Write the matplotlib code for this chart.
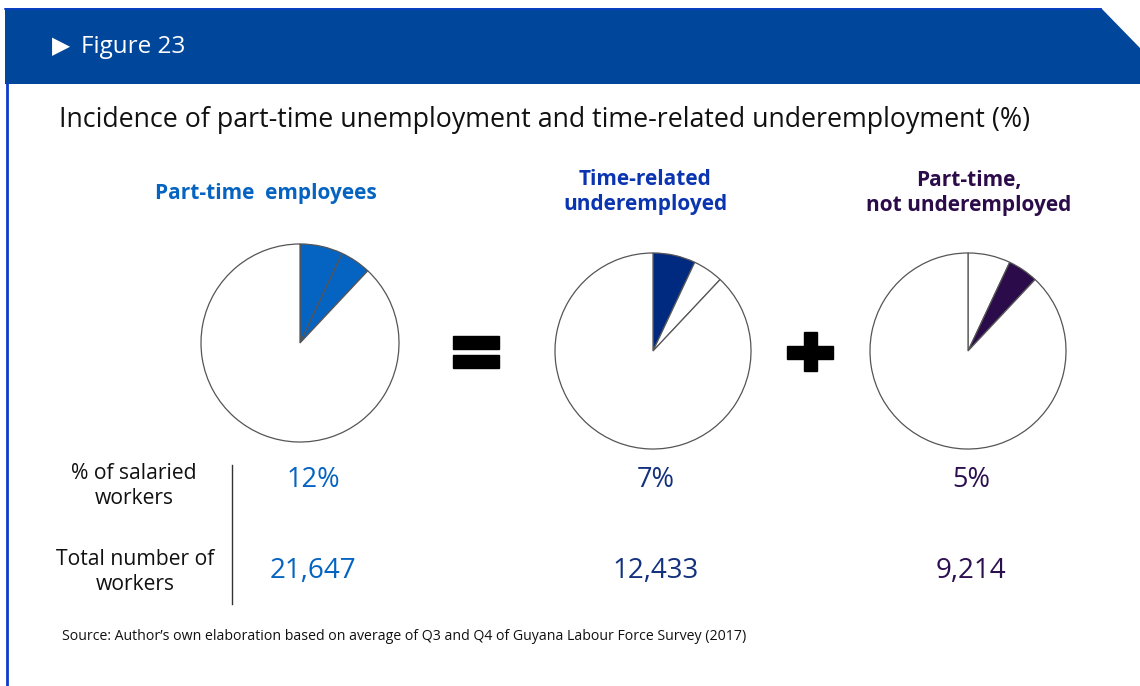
import matplotlib
matplotlib.use("Agg")
import matplotlib.pyplot as plt
from matplotlib.patches import Polygon, Rectangle

plt.rcParams['font.family'] = ['Open Sans', 'Noto Sans', 'DejaVu Sans']

W, H = 1140, 686

# Data: share of salaried workers (%) and worker counts
groups = ["Part-time  employees", "Time-related\nunderemployed", "Part-time,\nnot underemployed"]
share_pct = [12, 7, 5]
workers = [21647, 12433, 9214]
# slices shown in each pie: time-related, not underemployed, rest
slices = [7, 5, 100 - 12]

blue = "#0563C1"
navy = "#002A7F"
purple = "#2B0B4A"
header = "#00479B"

fig = plt.figure(figsize=(W / 100, H / 100), dpi=100)
ax = fig.add_axes([0, 0, 1, 1])
ax.set_xlim(0, W)
ax.set_ylim(H, 0)
ax.axis('off')

# header band with cut corner
ax.add_patch(Polygon([[5, 8], [1101, 8], [1140, 48], [1140, 84], [5, 84]],
                     closed=True, facecolor=header, edgecolor='none'))
ax.plot([5, 1101], [8.5, 8.5], color="#0A3FC8", lw=1.2)
ax.plot([6.5, 6.5], [84, H], color="#0A3FC8", lw=2)
ax.text(52, 46, "\u25B6", color='white', fontsize=17, va='center', ha='left',
        family=['DejaVu Sans'])
ax.text(81, 47, "Figure 23", color='white', fontsize=17.5, va='center', ha='left')

ax.text(59, 120, "Incidence of part-time unemployment and time-related underemployment (%)",
        fontsize=19.3, va='center', ha='left', color='#111111')

# pies
centers = [(300, 343, 100), (653, 351, 99), (968, 351, 99)]
pie_colors = [[blue, blue, 'white'], [navy, 'white', 'white'], ['white', purple, 'white']]
label_colors = [blue, "#0B35B0", purple]
value_colors = [blue, "#14317F", "#2B0F4F"]
label_pos = [(266, 193), (645, 192), (969, 193)]
value_x = [313, 656, 971]

for (cx, cy, r), cols in zip(centers, pie_colors):
    pax = fig.add_axes([(cx - r) / W, 1 - (cy + r) / H, 2 * r / W, 2 * r / H])
    pax.pie(slices, colors=cols, startangle=90, counterclock=False, radius=1,
            wedgeprops=dict(edgecolor='#555555', linewidth=0.9))
    pax.set_xlim(-1.01, 1.01)
    pax.set_ylim(-1.01, 1.01)
    pax.set_aspect('equal')
    pax.axis('off')

for name, (lx, ly), c in zip(groups, label_pos, label_colors):
    ax.text(lx, ly, name, fontsize=15, fontweight='bold', color=c,
            ha='center', va='center', linespacing=1.3)

# equals and plus signs
ax.add_patch(Rectangle((453, 336), 46, 12.5, color='black'))
ax.add_patch(Rectangle((453, 355), 46, 12.5, color='black'))
ax.add_patch(Rectangle((787, 346), 46, 12.5, color='black'))
ax.add_patch(Rectangle((804, 332), 13, 39, color='black'))

# row labels and values
ax.text(134, 486, "% of salaried\nworkers", fontsize=15.2, ha='center', va='center',
        color='#111111', linespacing=1.25)
ax.text(135, 572, "Total number of\nworkers", fontsize=15.2, ha='center', va='center',
        color='#111111', linespacing=1.25)
ax.plot([232, 232], [465, 604], color='#333333', lw=1)

for x, p, n, c in zip(value_x, share_pct, workers, value_colors):
    ax.text(x, 480, f"{p}%", fontsize=19.5, ha='center', va='center', color=c,
            fontweight='medium')
    ax.text(x, 571, f"{n:,}", fontsize=20, ha='center', va='center', color=c)

ax.text(62, 637, "Source: Author\u2019s own elaboration based on average of Q3 and Q4 of Guyana Labour Force Survey (2017)",
        fontsize=10.2, ha='left', va='center', color='#111111')

fig.savefig("out.png", dpi=100)
